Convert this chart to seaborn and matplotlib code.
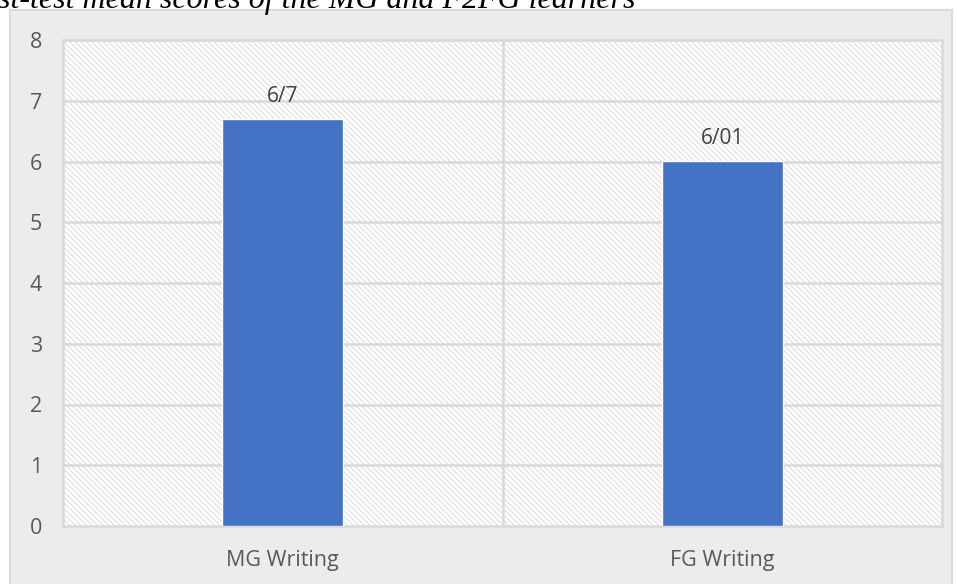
import matplotlib
matplotlib.use("Agg")
import matplotlib.pyplot as plt
import matplotlib.patches as mpatches
import seaborn as sns
import pandas as pd

# chart values
groups = ["MG Writing", "FG Writing"]
means = [6.7, 6.01]
value_labels = ["6/7", "6/01"]
y_ticks = [0, 1, 2, 3, 4, 5, 6, 7, 8]
title = "st-test mean scores of the MG and F2FG learners"

df = pd.DataFrame({"group": groups, "mean": means})

sns.set_theme(style="white")
plt.rcParams["font.family"] = ["Open Sans", "DejaVu Sans"]
plt.rcParams["hatch.color"] = "#dadada"
plt.rcParams["hatch.linewidth"] = 0.7

W, H = 957, 584
fig = plt.figure(figsize=(W / 100, H / 100), dpi=100, facecolor="white")

# grey chart area behind the plot
fig.patches.append(mpatches.Rectangle((10 / W, -0.05), 942 / W, (H - 10) / H + 0.05,
                                      transform=fig.transFigure, facecolor="#ececec",
                                      edgecolor="#d9d9d9", linewidth=1.5, zorder=-5))

ax = fig.add_axes([63 / W, (H - 526) / H, 879 / W, 486 / H])
ax.set_facecolor("white")
ax.add_patch(mpatches.Rectangle((0, 0), 1, 1, transform=ax.transAxes, facecolor="white",
                                hatch="\\" * 6, edgecolor="#dadada", linewidth=0, zorder=0))

sns.barplot(data=df, x="group", y="mean", color="#4472C4", width=0.275,
            saturation=1, ax=ax, zorder=3)

ax.set_ylim(0, 8)
ax.set_xlim(-0.5, 1.5)
ax.set_yticks(y_ticks)
for v in y_ticks[1:]:
    ax.axhline(v, color="#d9d9d9", linewidth=1.8, zorder=1)
ax.axvline(0.5, color="#d9d9d9", linewidth=1.8, zorder=1)

for i, (v, lab) in enumerate(zip(means, value_labels)):
    ax.text(i, v + 0.2, lab, ha="center", va="bottom", fontsize=15, color="#404040", zorder=4)

ax.set_xlabel("")
ax.set_ylabel("")
ax.tick_params(axis="both", length=0, colors="#595959", labelsize=15.5)
ax.tick_params(axis="y", pad=15)
ax.tick_params(axis="x", pad=17)
for s in ax.spines.values():
    s.set_color("#d9d9d9")
    s.set_linewidth(1.8)

fig.text(-0.002, 1 - 8 / H, title, ha="left", va="baseline", fontsize=23,
         family="Liberation Serif", style="italic", color="black")

fig.savefig("out.png", dpi=100, facecolor="white")
